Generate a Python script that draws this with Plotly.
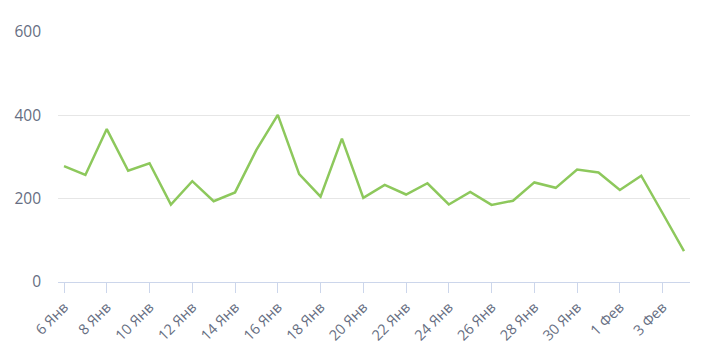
import plotly.graph_objects as go
import pandas as pd

dates = pd.date_range("2025-01-06", "2025-02-04", freq="D")
values = [278, 257, 367, 267, 285, 186, 242, 194, 215, 317,
          401, 259, 205, 344, 202, 233, 210, 237, 186, 216,
          185, 195, 239, 226, 270, 263, 221, 255, 165, 74]

month_ru = {1: "Янв", 2: "Фев"}
tick_dates = dates[::2]
tick_labels = [f"{d.day} {month_ru[d.month]}" for d in tick_dates]

fig = go.Figure()
fig.add_trace(go.Scatter(
    x=dates, y=values, mode="lines",
    line=dict(color="#8dc85c", width=2.5),
    hoverinfo="x+y",
))

fig.update_layout(
    width=702, height=362,
    margin=dict(l=58, r=12, t=32, b=80),
    paper_bgcolor="white", plot_bgcolor="white",
    showlegend=False,
    font=dict(family="Open Sans", size=15, color="#666e82"),
)
fig.update_xaxes(
    range=[pd.Timestamp("2025-01-05 17:15"), pd.Timestamp("2025-02-04 06:45")],
    tickmode="array", tickvals=tick_dates, ticktext=tick_labels,
    tickangle=-45, automargin=False,
    showgrid=False, zeroline=False,
    showline=True, linecolor="#ccd6eb", linewidth=1,
    ticks="outside", ticklen=10, tickcolor="#ccd6eb", tickwidth=1,
    tickfont=dict(size=14.5, color="#666e82"),
)
fig.update_yaxes(
    range=[0, 600], tickvals=[0, 200, 400, 600],
    showgrid=True, gridcolor="#e6e6e6", gridwidth=1,
    zeroline=False, showline=False, automargin=False,
    ticklabelstandoff=16,
    tickfont=dict(size=15.5, color="#666e82"),
)

fig.write_html("out.html", post_script="document.body.style.margin='0';",
               config={"displayModeBar": False})
